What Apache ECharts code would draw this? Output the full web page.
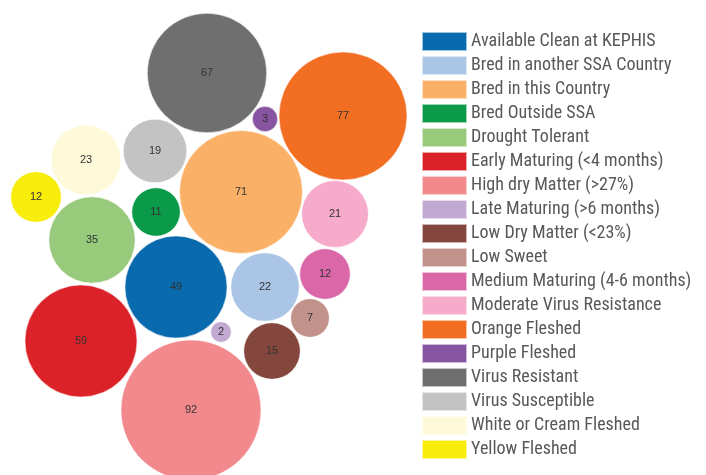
<!DOCTYPE html>
<html>
<head>
<meta charset="utf-8">
<script src="https://cdn.jsdelivr.net/npm/echarts@6/dist/echarts.min.js"></script>
<style>
html,body{margin:0;padding:0;background:#fff;}
#chart{width:706px;height:475px;}
</style>
</head>
<body>
<div id="chart"></div>
<script>
// Data
var categories = [
  'Available Clean at KEPHIS',
  'Bred in another SSA Country',
  'Bred in this Country',
  'Bred Outside SSA',
  'Drought Tolerant',
  'Early Maturing (<4 months)',
  'High dry Matter (>27%)',
  'Late Maturing (>6 months)',
  'Low Dry Matter (<23%)',
  'Low Sweet',
  'Medium Maturing (4-6 months)',
  'Moderate Virus Resistance',
  'Orange Fleshed',
  'Purple Fleshed',
  'Virus Resistant',
  'Virus Susceptible',
  'White or Cream Fleshed',
  'Yellow Fleshed'
];
var values = [49, 22, 71, 11, 35, 59, 92, 2, 15, 7, 12, 21, 77, 3, 67, 19, 23, 12];

// Packed-bubble layout (bubble centres, in hidden-axis units)
var layoutX = [176, 265, 241, 156, 92, 81, 191, 221, 272, 310, 325, 335, 343, 265, 207, 155, 86, 36];
var layoutY = [287, 287, 192, 212, 240, 341, 410, 332, 351, 318, 274, 214, 116, 119, 73, 151, 160, 197];

// Styles
var colors = ['#0a6aae', '#aac5e6', '#fbb067', '#0a9a4a', '#97cb7b', '#dc2229', '#f2898d',
  '#c1a9d1', '#84473d', '#c1918a', '#da67a8', '#f6abcb', '#f26e23', '#8754a1',
  '#6f6f6f', '#c3c3c3', '#fef9d9', '#f8ec0b'];

// Pick a narrow font rendering for the legend (reference uses a condensed face)
var measureCtx = document.createElement('canvas').getContext('2d');
function measure(font, txt) { measureCtx.font = font; return measureCtx.measureText(txt).width; }
var sample = 'Available Clean at KEPHIS';
var targetW = 185;
var best = null;
['DejaVu Sans', 'Open Sans', 'Noto Sans', 'Liberation Sans', 'Roboto', 'Lato', 'Inter'].forEach(function (fam) {
  ['condensed', 'semi-condensed', 'normal'].forEach(function (st) {
    var w = measure(st + ' normal 18px "' + fam + '"', sample);
    var score = Math.abs(w - targetW);
    if (!best || score < best.score) best = {fam: fam, st: st, w: w, score: score};
  });
});
var legendSize = Math.min(19, Math.round(18 * targetW / best.w * 2) / 2);

var chart = echarts.init(document.getElementById('chart'), null, {renderer: 'canvas'});

var series = categories.map(function (name, i) {
  return {
    type: 'scatter',
    name: name,
    data: [[layoutX[i], layoutY[i], values[i]]],
    symbolSize: function (d) { return 14.6 * Math.sqrt(d[2]); },
    itemStyle: {color: colors[i], opacity: 1, borderColor: 'rgba(255,255,255,0.6)', borderWidth: 1},
    label: {
      show: true,
      position: 'inside',
      formatter: function (p) { return p.data[2]; },
      color: '#333',
      fontSize: 11,
      fontFamily: '"Liberation Sans", Arial, sans-serif'
    },
    emphasis: {disabled: true},
    animation: false
  };
});

chart.setOption({
  backgroundColor: '#ffffff',
  animation: false,
  grid: {left: 0, right: 0, top: 0, bottom: 0},
  xAxis: {type: 'value', min: 0, max: 706, show: false},
  yAxis: {type: 'value', min: 0, max: 475, inverse: true, show: false},
  legend: {
    orient: 'vertical',
    left: 421,
    top: 31,
    padding: 0,
    itemWidth: 45,
    itemHeight: 19,
    itemGap: 3,
    icon: 'rect',
    selectedMode: false,
    textStyle: {
      color: '#585858',
      fontSize: legendSize,
      lineHeight: 19,
      fontStyle: best.st,
      fontFamily: '"' + best.fam + '", sans-serif',
      padding: [0, 0, 0, -1]
    },
    data: categories
  },
  series: series
});
</script>
</body>
</html>
